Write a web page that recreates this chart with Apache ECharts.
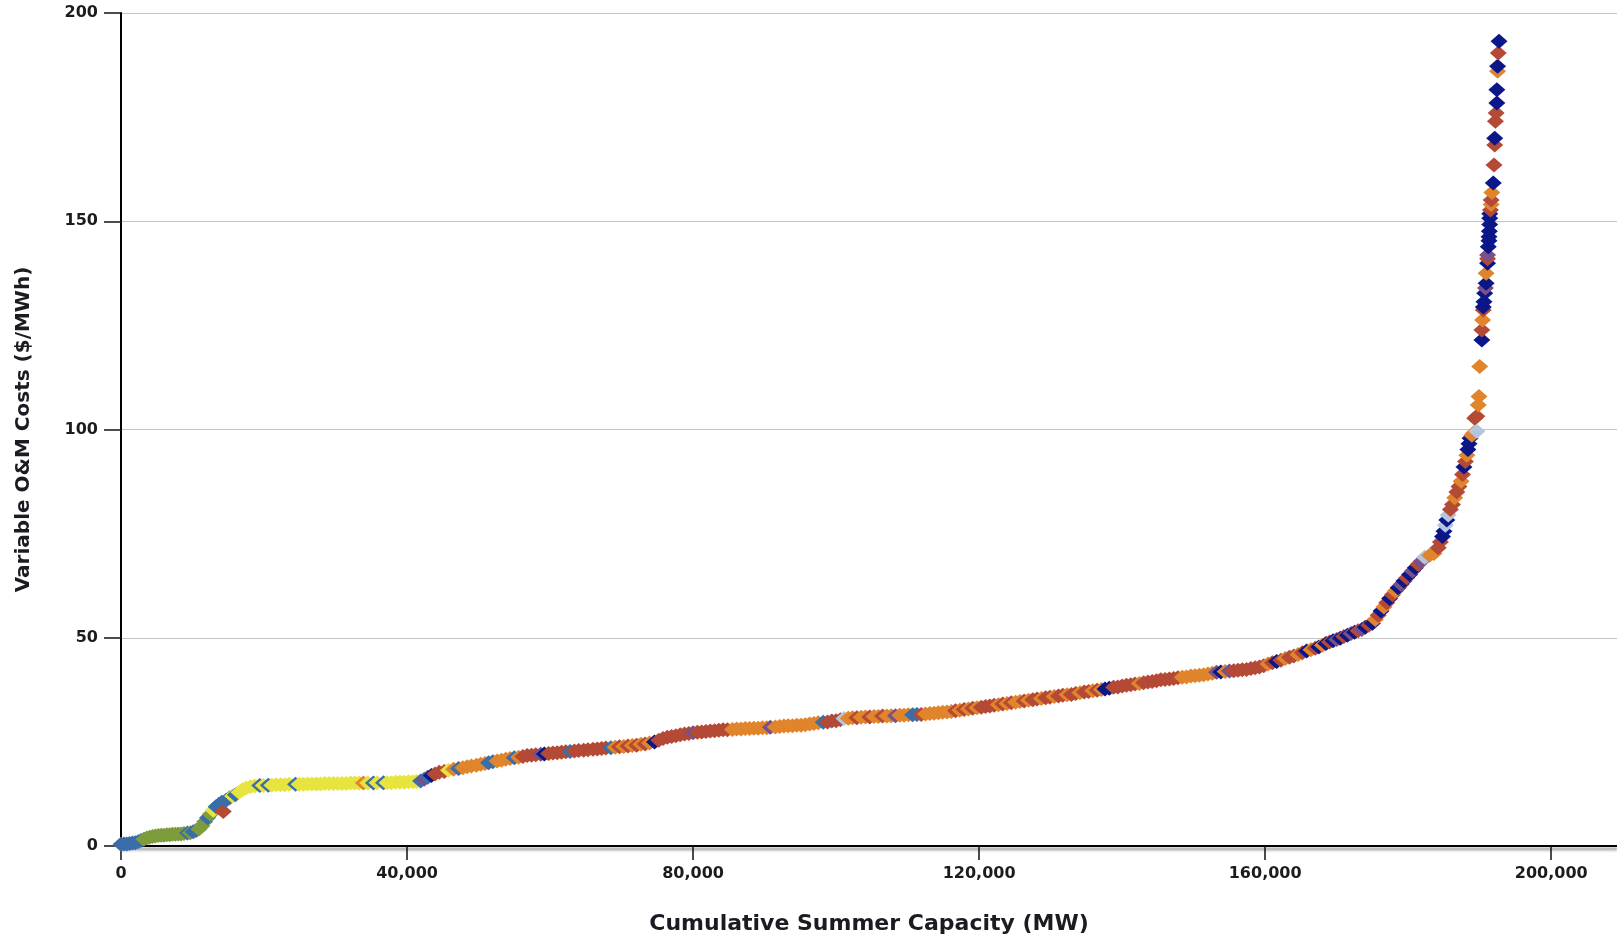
<!DOCTYPE html>
<html>
<head>
<meta charset="utf-8">
<script src="https://cdn.jsdelivr.net/npm/echarts@6/dist/echarts.min.js"></script>
<style>
html,body{margin:0;padding:0;background:#fff;}
#chart{width:1617px;height:938px;}
</style>
</head>
<body>
<div id="chart"></div>
<script>
// Fuel categories (codes used in the point arrays)
const fuelCodes = ['Y','G','B','O','R','N','P','L'];
const fuelColors = {Y:'#e8e43f',G:'#7d9c3c',B:'#3a6ea9',O:'#e0852c',R:'#b44a36',N:'#0b1788',P:'#7a5088',L:'#b3c6e0'};

const xTicks = [0, 40000, 80000, 120000, 160000, 200000];
const yTicks = [0, 50, 100, 150, 200];

// [cumulative capacity MW, variable O&M $/MWh, fuel code]
const rampPoints = [
[0,0.4,'B'],[400,0.5,'B'],[800,0.5,'B'],[1200,0.6,'B'],[1600,0.7,'B'],[2000,0.8,'B'],[2400,1.0,'B'],[2800,1.3,'B'],
[3200,1.6,'G'],[3600,1.9,'G'],[4000,2.1,'G'],[4400,2.3,'G'],[4800,2.4,'G'],[5200,2.5,'G'],[5600,2.6,'G'],[6000,2.6,'G'],
[6400,2.7,'G'],[6800,2.7,'G'],[7200,2.8,'G'],[7600,2.8,'G'],[8000,2.9,'G'],[8400,2.9,'G'],[8800,3.0,'G'],[9300,3.1,'B'],
[9700,3.2,'G'],[10100,3.4,'B'],[10500,3.7,'B'],[10900,4.1,'G'],[11300,4.8,'G'],[11700,5.8,'G'],[12100,6.8,'B'],[12500,7.6,'G'],
[12900,8.6,'Y'],[13300,9.4,'B'],[13700,10.0,'B'],[14100,10.5,'B'],[14300,8.3,'R'],[14700,11.0,'B'],[15200,11.6,'B'],[15600,12.0,'Y'],
[16000,12.3,'B'],[16500,12.9,'Y'],[17000,13.5,'Y']
];

const plateauPoints = [
[17500,13.9,'Y'],[18100,14.2,'Y'],[18700,14.4,'Y'],[19400,14.5,'B'],[19900,14.5,'Y'],[20600,14.6,'B'],[21100,14.6,'Y'],[21700,14.7,'Y'],
[22300,14.7,'Y'],[22900,14.7,'Y'],[23500,14.8,'Y'],[24400,14.8,'B'],[24900,14.8,'Y'],[25500,14.8,'Y'],[26100,14.9,'Y'],[26700,14.9,'Y'],
[27300,14.9,'Y'],[27900,14.9,'Y'],[28500,15.0,'Y'],[29100,15.0,'Y'],[29700,15.0,'Y'],[30300,15.0,'Y'],[30900,15.0,'Y'],[31500,15.0,'Y'],
[32100,15.1,'Y'],[32700,15.1,'Y'],[33300,15.1,'Y'],[33900,15.1,'O'],[34500,15.1,'Y'],[35300,15.1,'B'],[35800,15.2,'Y'],[36700,15.2,'B'],
[37200,15.2,'Y'],[37800,15.2,'Y'],[38400,15.3,'Y'],[39000,15.3,'Y'],[39600,15.3,'Y'],[40200,15.4,'Y'],[40800,15.4,'Y'],[41300,15.5,'Y'],
[41900,15.6,'B'],[42400,16.0,'P'],[42900,16.5,'B'],[43400,16.9,'N'],[43900,17.3,'R']
];

const midPoints = [
[44500,17.7,'R'],[45200,17.9,'R'],[45800,18.2,'Y'],[46500,18.4,'O'],[47200,18.6,'B'],[47800,18.8,'O'],[48400,19.0,'O'],[49000,19.2,'O'],
[49700,19.4,'O'],[50300,19.6,'O'],[50900,19.8,'O'],[51400,20.0,'B'],[52000,20.2,'B'],[52600,20.4,'O'],[53200,20.6,'O'],[53800,20.8,'O'],
[54400,21.0,'O'],[55000,21.2,'B'],[55600,21.3,'O'],[56200,21.5,'R'],[56800,21.7,'R'],[57400,21.8,'R'],[58000,21.9,'R'],[58700,22.0,'P'],
[59200,22.1,'N'],[59800,22.2,'R'],[60400,22.3,'R'],[61000,22.4,'R'],[61600,22.5,'R'],[62200,22.6,'R'],[62800,22.7,'B'],[63400,22.8,'R'],
[64000,22.9,'R'],[64700,23.0,'R'],[65300,23.1,'R'],[66000,23.2,'R'],[66600,23.3,'R'],[67200,23.4,'R'],[67800,23.5,'R'],[68500,23.6,'B'],
[69100,23.7,'O'],[69700,23.8,'R'],[70300,23.9,'O'],[70900,24.0,'R'],[71500,24.1,'O'],[72100,24.2,'R'],[72700,24.4,'O'],[73300,24.5,'R'],
[73900,24.7,'O'],[74600,25.0,'N'],[75200,25.4,'R'],[75800,25.8,'R'],[76400,26.1,'R'],[77000,26.3,'R'],[77600,26.5,'R'],[78200,26.7,'R'],
[78800,26.9,'R'],[79400,27.0,'R'],[80000,27.2,'P'],[80600,27.3,'R'],[81200,27.4,'R'],[81800,27.5,'R'],[82400,27.6,'R'],[83000,27.7,'R'],
[83600,27.8,'R'],[84200,27.9,'R'],[84800,27.9,'R'],[85500,28.0,'O'],[86100,28.1,'O'],[86700,28.1,'O'],[87300,28.2,'O'],[87900,28.2,'O'],
[88500,28.3,'O'],[89100,28.3,'O'],[89700,28.4,'O'],[90300,28.4,'O'],[90800,28.5,'P'],[91500,28.6,'O'],[92100,28.7,'O'],[92700,28.8,'O'],
[93300,28.9,'O'],[93900,28.9,'O'],[94500,29.0,'O'],[95100,29.0,'O'],[95700,29.1,'O'],[96300,29.3,'O'],[96900,29.4,'O'],[97500,29.6,'O'],
[98200,29.7,'B'],[98800,29.8,'R'],[99400,30.0,'R'],[100000,30.1,'R'],[100600,30.3,'R'],[101100,30.6,'L'],[101700,30.7,'O'],[102300,30.8,'O'],
[102900,30.8,'R'],[103500,30.9,'O'],[104100,31.0,'O'],[104700,31.0,'R'],[105300,31.1,'O'],[105900,31.1,'O'],[106500,31.2,'R'],[107100,31.2,'O'],
[107700,31.3,'O'],[108300,31.3,'P'],[108900,31.4,'O'],[109500,31.4,'O']
];

const upperPoints = [
[110100,31.5,'O'],[110700,31.5,'B'],[111300,31.6,'B'],[111900,31.6,'R'],[112500,31.7,'O'],[113100,31.8,'O'],[113700,31.9,'O'],[114300,32.0,'O'],
[114900,32.1,'O'],[115500,32.2,'O'],[116100,32.3,'O'],[116700,32.5,'R'],[117300,32.6,'O'],[117900,32.8,'R'],[118500,32.9,'O'],[119100,33.1,'R'],
[119700,33.2,'O'],[120300,33.3,'R'],[120900,33.5,'R'],[121500,33.6,'R'],[122100,33.8,'R'],[122700,33.9,'O'],[123300,34.1,'R'],[123900,34.2,'O'],
[124500,34.4,'R'],[125100,34.5,'O'],[125700,34.7,'O'],[126300,34.8,'R'],[126900,35.0,'O'],[127500,35.1,'R'],[128100,35.3,'R'],[128700,35.4,'O'],
[129300,35.6,'R'],[129900,35.7,'R'],[130500,35.9,'O'],[131100,36.0,'R'],[131700,36.2,'R'],[132300,36.3,'O'],[132900,36.4,'R'],[133500,36.6,'R'],
[134100,36.8,'O'],[134700,37.0,'R'],[135300,37.1,'R'],[135900,37.3,'O'],[136500,37.4,'R'],[137100,37.6,'O'],[137600,37.7,'N'],[138200,37.9,'N'],
[138800,38.1,'R'],[139400,38.2,'R'],[140000,38.4,'R'],[140600,38.6,'R'],[141200,38.7,'R'],[141800,38.9,'R'],[142400,39.0,'O'],[143000,39.2,'R'],
[143600,39.4,'R'],[144200,39.5,'R'],[144800,39.7,'R'],[145400,39.9,'R'],[146000,40.0,'R'],[146600,40.1,'R'],[147200,40.2,'R'],[147800,40.4,'R'],
[148400,40.5,'O'],[149000,40.6,'O'],[149600,40.8,'O'],[150200,40.9,'O'],[150800,41.0,'O'],[151400,41.1,'O'],[152000,41.3,'O'],[152600,41.5,'O'],
[153200,41.7,'P'],[153800,41.8,'N'],[154400,41.9,'O'],[155000,42.0,'P'],[155600,42.1,'R'],[156200,42.2,'R'],[156800,42.3,'R'],[157400,42.4,'R'],
[158000,42.6,'R'],[158600,42.8,'R'],[159200,43.0,'R'],[159800,43.3,'R'],[160400,43.7,'O'],[161000,44.0,'R'],[161600,44.3,'N'],[162200,44.6,'R'],
[162800,45.0,'O'],[163400,45.3,'R'],[164000,45.6,'R'],[164600,46.0,'O'],[165200,46.4,'R'],[165800,46.8,'N'],[166400,47.1,'O'],[167000,47.5,'R'],
[167500,47.8,'N'],[168000,48.2,'O'],[168500,48.6,'N'],[169000,49.0,'R'],[169500,49.3,'N'],[170000,49.6,'P'],[170500,49.9,'N'],[171000,50.3,'R'],
[171500,50.6,'N'],[172000,51.0,'P']
];

const tailPoints = [
[172500,51.3,'N'],[173000,51.7,'R'],[173500,52.0,'P'],[174000,52.5,'N'],[174500,53.0,'R'],[175000,53.5,'N'],[175400,54.4,'O'],[175800,55.4,'R'],
[176200,56.4,'N'],[176600,57.4,'O'],[177000,58.4,'R'],[177400,59.4,'N'],[177800,60.3,'R'],[178200,61.2,'O'],[178600,62.0,'N'],[179000,62.8,'P'],
[179400,63.6,'N'],[179800,64.4,'R'],[180200,65.2,'N'],[180600,66.0,'P'],[181000,66.8,'N'],[181400,67.6,'R'],[181800,68.3,'P'],[182300,69.3,'L'],
[183000,69.8,'O'],[183600,70.2,'O'],[184200,71.6,'R'],[184500,73.0,'R'],[184800,74.3,'N'],[185000,75.6,'N'],[185200,77.0,'L'],[185400,78.3,'N'],
[185600,79.5,'L'],[185900,80.8,'R'],[186200,82.0,'R'],[186500,83.6,'O'],[186800,85.0,'R'],[187100,86.3,'R'],[187400,87.6,'O'],[187600,89.2,'R'],
[187800,91.0,'N'],[188000,92.3,'R'],[188200,93.8,'O'],[188350,95.2,'N'],[188500,96.6,'N'],[188650,97.9,'N'],[188900,98.6,'O'],[189200,99.2,'O'],
[189300,102.7,'R'],[189600,99.6,'L'],[189600,103.2,'R'],[189800,105.9,'O'],[189900,107.9,'O'],[190000,115.1,'O'],[190300,121.5,'N'],[190300,123.9,'R'],
[190400,126.3,'O'],[190500,128.7,'R'],[190500,129.4,'N'],[190600,130.7,'N'],[190700,132.7,'N'],[190800,134.0,'P'],[190900,135.1,'N'],[190900,137.5,'O'],
[191100,139.9,'N'],[191100,141.0,'R'],[191100,141.9,'P'],[191200,143.9,'N'],[191300,145.3,'N'],[191300,146.3,'N'],[191350,147.6,'N'],[191400,149.2,'N'],
[191400,150.7,'N'],[191400,151.8,'N'],[191500,152.7,'R'],[191600,154.0,'O'],[191600,155.1,'R'],[191700,156.9,'O'],[191900,159.2,'N'],[192000,163.5,'R'],
[192100,168.3,'R'],[192100,169.9,'N'],[192200,174.0,'R'],[192300,176.0,'R'],[192400,178.4,'N'],[192400,181.6,'N'],[192500,186.0,'O'],[192500,187.2,'N'],
[192600,190.4,'R'],[192700,193.2,'N']
];

const allPoints = [].concat(rampPoints, plateauPoints, midPoints, upperPoints, tailPoints);
const seriesData = allPoints.map(p => ({value:[p[0], p[1]], itemStyle:{color: fuelColors[p[2]]}}));

const font = 'DejaVu Sans, Verdana, sans-serif';
const chart = echarts.init(document.getElementById('chart'), null, {renderer:'canvas'});
chart.setOption({
  animation:false,
  backgroundColor:'#ffffff',
  grid:{left:121, right:0, top:13, bottom:92, containLabel:false, outerBoundsMode:'none'},
  xAxis:{
    type:'value', min:xTicks[0], max:209200, interval:xTicks[1]-xTicks[0],
    name:'Cumulative Summer Capacity (MW)', nameLocation:'middle', nameGap:78,
    nameTextStyle:{fontFamily:font, fontWeight:'bold', fontSize:22, color:'#1c1a22', verticalAlign:'middle'},
    axisLine:{show:true, onZero:false, lineStyle:{color:'#000', width:2, shadowColor:'rgba(0,0,0,0.5)', shadowBlur:3, shadowOffsetY:3}},
    axisTick:{show:true, length:14, lineStyle:{color:'#111', width:1.5}},
    axisLabel:{showMaxLabel:false, margin:20, fontFamily:font, fontWeight:'bold', fontSize:16, color:'#1c1c1c',
      formatter:v => xTicks.indexOf(v) >= 0 ? v.toLocaleString('en-US') : ''},
    splitLine:{show:false}
  },
  yAxis:{
    type:'value', min:yTicks[0], max:yTicks[yTicks.length-1], interval:yTicks[1]-yTicks[0],
    name:'Variable O&M Costs ($/MWh)', nameLocation:'middle', nameGap:97, nameRotate:90,
    nameTextStyle:{fontFamily:font, fontWeight:'bold', fontSize:20, color:'#1c1a22', verticalAlign:'middle'},
    axisLine:{show:true, onZero:false, lineStyle:{color:'#000', width:2}},
    axisTick:{show:true, length:17, lineStyle:{color:'#111', width:1.5}},
    axisLabel:{margin:23, fontFamily:font, fontWeight:'bold', fontSize:16, color:'#1c1c1c'},
    splitLine:{show:true, lineStyle:{color:'#c4c4c4', width:1}}
  },
  series:[{
    type:'scatter',
    symbol:'diamond',
    symbolSize:[17,15],
    data:seriesData,
    itemStyle:{opacity:1},
    z:3
  }]
});
</script>
</body>
</html>
